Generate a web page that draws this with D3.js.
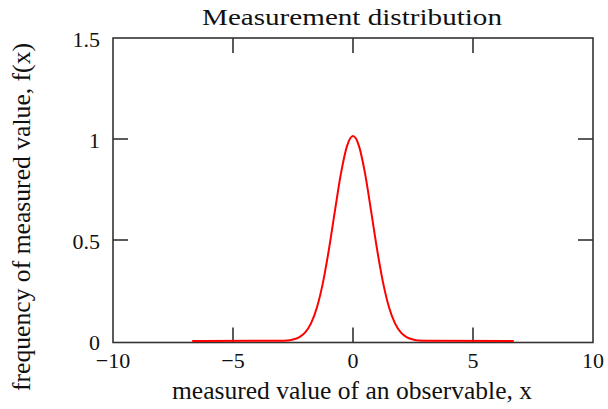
<!DOCTYPE html>
<html>
<head>
<meta charset="utf-8">
<script src="https://cdn.jsdelivr.net/npm/d3@7"></script>
<style>
  html, body { margin: 0; padding: 0; background: #fff; }
  svg { display: block; }
  text { font-family: "Liberation Serif", "Times New Roman", serif; fill: #111; }
</style>
</head>
<body>
<svg id="chart" width="608" height="409"></svg>
<script>
// ---- data ----
const xValues = [-6.7, -3.0, -2.75, -2.5, -2.25, -2.0, -1.75, -1.5, -1.25, -1.0, -0.75, -0.5, -0.25, 0,
                 0.25, 0.5, 0.75, 1.0, 1.25, 1.5, 1.75, 2.0, 2.25, 2.5, 2.75, 3.0, 6.7];
const fValues = [0, 0.001, 0.002, 0.007, 0.018, 0.041, 0.087, 0.167, 0.290, 0.456, 0.647, 0.831, 0.965, 1.015,
                 0.965, 0.831, 0.647, 0.456, 0.290, 0.167, 0.087, 0.041, 0.018, 0.007, 0.002, 0.001, 0];
const xTicks = [-10, -5, 0, 5, 10];
const yTicks = [0, 0.5, 1, 1.5];
const titleText = "Measurement distribution";
const xLabel = "measured value of an observable, x";
const yLabel = "frequency of measured value, f(x)";

(function () {
  // ---- layout ----
  const svg = d3.select("#chart");
  const pLeft = 113, pRight = 593, pTop = 38, pBottom = 341;
  const x = d3.scaleLinear().domain([-10, 10]).range([pLeft, pRight]);
  const y = d3.scaleLinear().domain([0, 1.5]).range([pBottom, pTop]);
  const tickLen = 15;
  const frameColor = "#333";
  const fmt = d3.format("~g");

  // frame
  svg.append("rect")
    .attr("x", pLeft).attr("y", pTop)
    .attr("width", pRight - pLeft).attr("height", (pBottom + 1.5) - pTop)
    .attr("fill", "none").attr("stroke", frameColor).attr("stroke-width", 1.6);

  // x ticks (bottom and top, inward)
  const gx = svg.append("g");
  xTicks.slice(1, -1).forEach(t => {
    gx.append("line").attr("x1", x(t)).attr("x2", x(t))
      .attr("y1", pBottom + 1.5).attr("y2", pBottom + 1.5 - tickLen)
      .attr("stroke", frameColor).attr("stroke-width", 1.6);
    gx.append("line").attr("x1", x(t)).attr("x2", x(t))
      .attr("y1", pTop).attr("y2", pTop + tickLen)
      .attr("stroke", frameColor).attr("stroke-width", 1.6);
  });
  xTicks.forEach(t => {
    gx.append("text").attr("x", x(t)).attr("y", 368)
      .attr("text-anchor", "middle").attr("font-size", 22)
      .text(fmt(t));
  });

  // y ticks (left and right, inward)
  const gy = svg.append("g");
  yTicks.slice(1, -1).forEach(t => {
    gy.append("line").attr("x1", pLeft).attr("x2", pLeft + tickLen)
      .attr("y1", y(t)).attr("y2", y(t))
      .attr("stroke", frameColor).attr("stroke-width", 1.6);
    gy.append("line").attr("x1", pRight).attr("x2", pRight - tickLen)
      .attr("y1", y(t)).attr("y2", y(t))
      .attr("stroke", frameColor).attr("stroke-width", 1.6);
  });
  yTicks.forEach(t => {
    gy.append("text").attr("x", 100).attr("y", y(t) + 9)
      .attr("text-anchor", "end").attr("font-size", 22)
      .text(fmt(t));
  });

  // curve
  const pts = xValues.map((v, i) => [v, fValues[i]]);
  svg.append("path")
    .datum(pts)
    .attr("fill", "none")
    .attr("stroke", "#ff0000")
    .attr("stroke-width", 2)
    .attr("d", d3.line().x(d => x(d[0])).y(d => y(d[1])).curve(d3.curveMonotoneX));

  // title
  svg.append("text").attr("x", 352).attr("y", 25)
    .attr("text-anchor", "middle").attr("font-size", 23)
    .attr("textLength", 300).attr("lengthAdjust", "spacingAndGlyphs")
    .text(titleText);

  // x label
  svg.append("text").attr("x", 352).attr("y", 399)
    .attr("text-anchor", "middle").attr("font-size", 25)
    .attr("textLength", 360).attr("lengthAdjust", "spacingAndGlyphs")
    .text(xLabel);

  // y label
  svg.append("text")
    .attr("transform", "translate(30,217) rotate(-90)")
    .attr("text-anchor", "middle").attr("font-size", 25)
    .attr("textLength", 348).attr("lengthAdjust", "spacingAndGlyphs")
    .text(yLabel);
})();
</script>
</body>
</html>
